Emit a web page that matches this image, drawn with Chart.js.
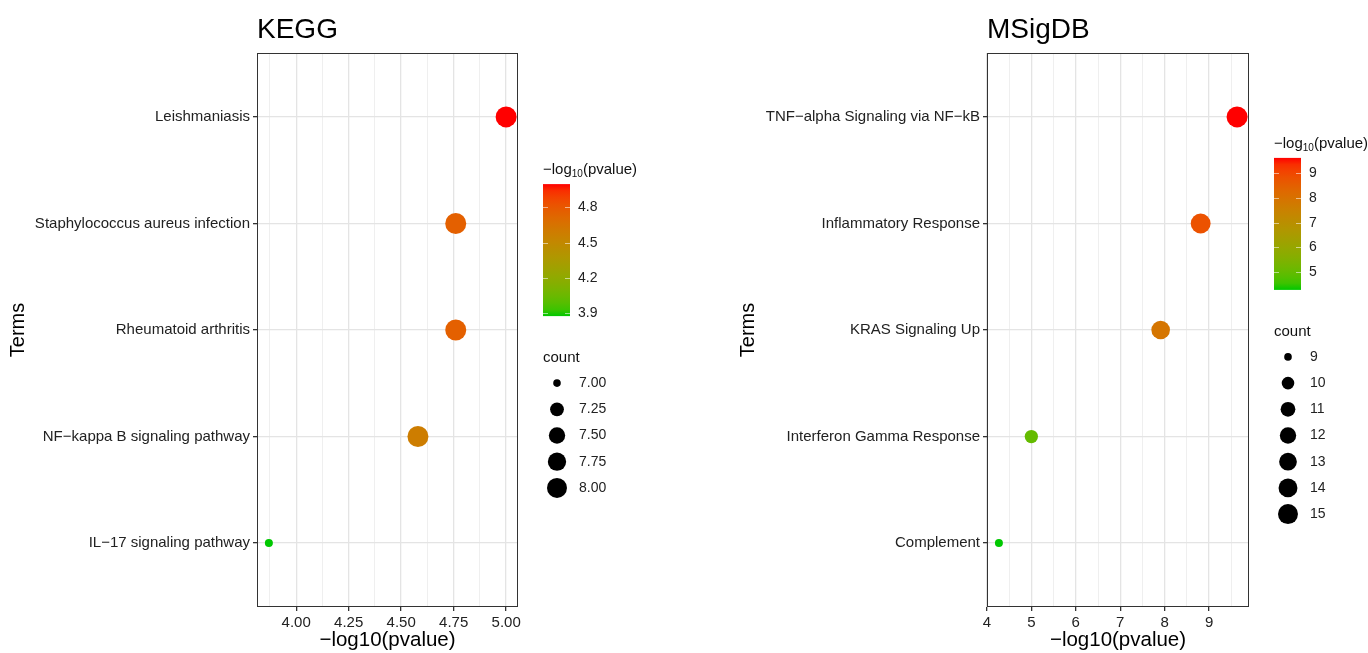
<!DOCTYPE html>
<html><head><meta charset="utf-8">
<script src="https://cdn.jsdelivr.net/npm/chart.js@4.4.1/dist/chart.umd.min.js"></script>
<style>
html,body{margin:0;padding:0;background:#fff;}
#wrap{position:relative;width:1368px;height:653px;overflow:hidden;}
.panel{position:absolute;top:0;width:684px;height:653px;}
</style></head>
<body><div id="wrap">
<div class="panel" style="left:0"><canvas id="c1"></canvas></div>
<div class="panel" style="left:684px"><canvas id="c2"></canvas></div>
</div>
<script>
// ---------- data ----------
const keggTerms = ["Leishmaniasis","Staphylococcus aureus infection","Rheumatoid arthritis","NF\u2212kappa B signaling pathway","IL\u221217 signaling pathway"];
const keggLogP = [5.00, 4.76, 4.76, 4.58, 3.87];
const keggCount = [8, 8, 8, 8, 7];
const keggXTicks = [4.00, 4.25, 4.50, 4.75, 5.00];
const keggXLabels = ["4.00","4.25","4.50","4.75","5.00"];
const keggColorTicks = [3.9, 4.2, 4.5, 4.8];
const keggSizeTicks = [7.00, 7.25, 7.50, 7.75, 8.00];
const keggSizeLabels = ["7.00","7.25","7.50","7.75","8.00"];

const msigTerms = ["TNF\u2212alpha Signaling via NF\u2212kB","Inflammatory Response","KRAS Signaling Up","Interferon Gamma Response","Complement"];
const msigLogP = [9.63, 8.81, 7.91, 5.00, 4.27];
const msigCount = [15, 14, 13, 10, 9];
const msigXTicks = [4, 5, 6, 7, 8, 9];
const msigXLabels = ["4","5","6","7","8","9"];
const msigColorTicks = [5, 6, 7, 8, 9];
const msigSizeTicks = [9, 10, 11, 12, 13, 14, 15];
const msigSizeLabels = ["9","10","11","12","13","14","15"];

// ---------- colour (Lab interpolation like ggplot) ----------
const LOW = [0, 200, 0], HIGH = [255, 0, 0];
function lin(c){c/=255;return c<=0.04045?c/12.92:Math.pow((c+0.055)/1.055,2.4);}
function delin(c){const v=c<=0.0031308?12.92*c:1.055*Math.pow(c,1/2.4)-0.055;return Math.round(Math.max(0,Math.min(1,v))*255);}
function toLab(rgb){
  const R=lin(rgb[0]),G=lin(rgb[1]),B=lin(rgb[2]);
  const X=(0.4124*R+0.3576*G+0.1805*B)/0.95047, Y=0.2126*R+0.7152*G+0.0722*B, Z=(0.0193*R+0.1192*G+0.9505*B)/1.08883;
  const f=t=>t>0.008856?Math.cbrt(t):7.787*t+16/116;
  const fx=f(X),fy=f(Y),fz=f(Z);
  return [116*fy-16,500*(fx-fy),200*(fy-fz)];
}
function fromLab(l){
  const fy=(l[0]+16)/116, fx=fy+l[1]/500, fz=fy-l[2]/200;
  const fi=t=>t>0.206893?t*t*t:(t-16/116)/7.787;
  const X=fi(fx)*0.95047, Y=fi(fy), Z=fi(fz)*1.08883;
  const R=3.2406*X-1.5372*Y-0.4986*Z, G=-0.9689*X+1.8758*Y+0.0415*Z, B=0.0557*X-0.2040*Y+1.0570*Z;
  return 'rgb('+delin(R)+','+delin(G)+','+delin(B)+')';
}
const LAB_LO = toLab(LOW), LAB_HI = toLab(HIGH);
function colorAt(t){t=Math.max(0,Math.min(1,t));return fromLab([0,1,2].map(i=>LAB_LO[i]+(LAB_HI[i]-LAB_LO[i])*t));}
function sizeAt(v,mn,mx){return 4+6.5*Math.sqrt((v-mn)/(mx-mn));}

const FONT = '"Liberation Sans", Arial, Helvetica, sans-serif';

// ---------- decoration plugin (title, border, legends) ----------
const decor = {
  id:'decor',
  afterDraw(chart, args, o){
    const ctx=chart.ctx, a=chart.chartArea;
    ctx.save();
    ctx.strokeStyle='#333'; ctx.lineWidth=1;
    ctx.strokeRect(Math.round(a.left)+0.5, Math.round(a.top)+0.5, Math.round(a.right-a.left)-1, Math.round(a.bottom-a.top)-1);
    ctx.fillStyle='#000'; ctx.font='28px '+FONT; ctx.textBaseline='alphabetic'; ctx.textAlign='left';
    ctx.fillText(o.title, a.left, 38);
    const bx=a.right+25, n=o.sizeTicks.length;
    const total=213+(n-1)*26.2+18;
    const T=(a.top+a.bottom)/2-total/2+8;
    ctx.fillStyle='#111'; ctx.textBaseline='middle';
    ctx.font='15px '+FONT; ctx.fillText('\u2212log', bx, T);
    let w=ctx.measureText('\u2212log').width;
    ctx.font='10px '+FONT; ctx.fillText('10', bx+w, T+4);
    w+=ctx.measureText('10').width;
    ctx.font='15px '+FONT; ctx.fillText('(pvalue)', bx+w, T);
    const top=T+14, h=132, bw=27, bot=top+h;
    const g=ctx.createLinearGradient(0,bot,0,top);
    for(let i=0;i<=20;i++) g.addColorStop(i/20, colorAt(i/20));
    ctx.fillStyle=g; ctx.fillRect(bx, top, bw, h);
    const yv=v=>bot-(v-o.cmin)/(o.cmax-o.cmin)*h;
    ctx.font='14px '+FONT; ctx.fillStyle='#222';
    o.colorTicks.forEach(v=>{
      const y=Math.round(yv(v))+0.5;
      ctx.strokeStyle='rgba(255,255,255,0.55)'; ctx.lineWidth=1;
      ctx.beginPath(); ctx.moveTo(bx,y); ctx.lineTo(bx+5,y); ctx.moveTo(bx+bw-5,y); ctx.lineTo(bx+bw,y); ctx.stroke();
      ctx.fillText(String(v), bx+35, y);
    });
    ctx.fillStyle='#111'; ctx.font='15px '+FONT;
    ctx.fillText('count', bx, T+188);
    o.sizeTicks.forEach((v,i)=>{
      const y=T+213+i*26.2;
      ctx.fillStyle='#000';
      ctx.beginPath(); ctx.arc(bx+14, y, sizeAt(v,o.smin,o.smax)*0.95, 0, Math.PI*2); ctx.fill();
      ctx.fillStyle='#222'; ctx.font='14px '+FONT;
      ctx.fillText(o.sizeLabels[i], bx+36, y);
    });
    ctx.restore();
  }
};

function makeChart(id, cfg){
  const cmin=Math.min(...cfg.logp), cmax=Math.max(...cfg.logp);
  const smin=Math.min(...cfg.count), smax=Math.max(...cfg.count);
  const span=cmax-cmin;
  const xmin=cmin-0.05*span, xmax=cmax+0.05*span;
  const step=cfg.xTicks[1]-cfg.xTicks[0];
  const allTicks=[];
  cfg.xTicks.forEach(v=>{allTicks.push({value:v,maj:true});});
  [cfg.xTicks[0]-step/2].concat(cfg.xTicks.map(v=>v+step/2)).forEach(v=>{ if(v>xmin&&v<xmax) allTicks.push({value:v,maj:false}); });
  allTicks.sort((p,q)=>p.value-q.value);
  const pts=cfg.logp.map((v,i)=>({x:v,y:i}));
  return new Chart(document.getElementById(id), {
    type:'scatter',
    data:{datasets:[{
      data:pts,
      backgroundColor:cfg.logp.map(v=>colorAt((v-cmin)/span)),
      borderColor:cfg.logp.map(v=>colorAt((v-cmin)/span)),
      borderWidth:0,
      pointRadius:cfg.count.map(c=>sizeAt(c,smin,smax)),
      pointHoverRadius:cfg.count.map(c=>sizeAt(c,smin,smax))
    }]},
    plugins:[decor],
    options:{
      responsive:true, maintainAspectRatio:false, animation:false,
      layout:{autoPadding:false, padding:{top:53,bottom:0,left:cfg.padLeft,right:cfg.padRight}},
      plugins:{legend:{display:false}, tooltip:{enabled:false},
        decor:{title:cfg.title, cmin, cmax, smin, smax, colorTicks:cfg.colorTicks, sizeTicks:cfg.sizeTicks, sizeLabels:cfg.sizeLabels}},
      scales:{
        x:{type:'linear', min:xmin, max:xmax,
          afterBuildTicks:s=>{s.ticks=allTicks.map(t=>({value:t.value,maj:t.maj}));},
          afterFit:s=>{s.height=46;},
          border:{display:false},
          grid:{color:c=>(c.tick&&c.tick.maj)?'#E4E4E4':'#EFEFEF', lineWidth:c=>(c.tick&&c.tick.maj)?1.3:1,
                tickColor:c=>(c.tick&&c.tick.maj)?'#333':'rgba(0,0,0,0)', tickLength:4},
          ticks:{autoSkip:false, maxRotation:0, padding:3, color:'#222', font:{family:FONT,size:15},
                 callback:(v)=>{const i=cfg.xTicks.findIndex(t=>Math.abs(t-v)<1e-9);return i>=0?cfg.xLabels[i]:'';}},
          title:{display:true, text:'\u2212log10(pvalue)', color:'#000', font:{family:FONT,size:20.5}, padding:{top:0,bottom:0}}
        },
        y:{type:'linear', reverse:true, min:-0.6, max:cfg.terms.length-0.4,
          afterBuildTicks:s=>{s.ticks=cfg.terms.map((t,i)=>({value:i}));},
          afterFit:s=>{s.width=257;},
          border:{display:false},
          grid:{color:'#E4E4E4', lineWidth:1.3, tickColor:'#333', tickLength:4},
          ticks:{autoSkip:false, padding:3, color:'#222', font:{family:FONT,size:15},
                 callback:(v)=>cfg.terms[v]},
          title:{display:true, text:'Terms', color:'#000', font:{family:FONT,size:20}, padding:{top:6,bottom:0}}
        }
      }
    }
  });
}

makeChart('c1',{title:'KEGG', terms:keggTerms, logp:keggLogP, count:keggCount, xTicks:keggXTicks, xLabels:keggXLabels,
  colorTicks:keggColorTicks, sizeTicks:keggSizeTicks, sizeLabels:keggSizeLabels, padLeft:0, padRight:166});
makeChart('c2',{title:'MSigDB', terms:msigTerms, logp:msigLogP, count:msigCount, xTicks:msigXTicks, xLabels:msigXLabels,
  colorTicks:msigColorTicks, sizeTicks:msigSizeTicks, sizeLabels:msigSizeLabels, padLeft:46, padRight:119});
</script>
</body></html>
